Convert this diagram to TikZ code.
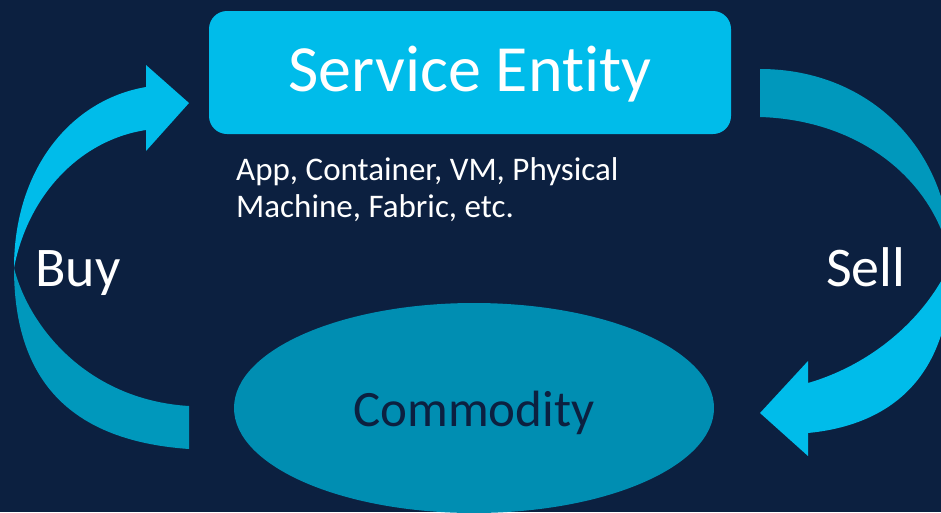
\documentclass[tikz,border=0pt]{standalone}
\usepackage{fontspec}
\setmainfont{Carlito}[Ligatures = NoCommon]
\usetikzlibrary{positioning, shapes.geometric}

\definecolor{navy}{RGB}{12,32,64}
\definecolor{skyblue}{RGB}{0,188,234}
\definecolor{deepteal}{RGB}{0,152,188}
\definecolor{oval}{RGB}{0,142,178}

\begin{document}
\begin{tikzpicture}[x = 1pt, y = -1pt,
  entity/.style = {fill = skyblue, rounded corners = 18pt, inner sep = 0pt,
    minimum width = 522pt, minimum height = 123pt, text = white,
    font = \fontsize{66}{70}\selectfont, text height = 44pt, text depth = 7pt},
  goods/.style = {ellipse, fill = oval, inner sep = 0pt,
    minimum width = 480pt, minimum height = 210pt, text = navy,
    font = \fontsize{51}{55}\selectfont, text height = 36pt, text depth = 0pt},
  side/.style = {anchor = base west, inner sep = 0pt, text = white,
    font = \fontsize{56}{60}\selectfont},
  note/.style = {anchor = base west, inner sep = 0pt, text = white, align = left,
    font = \fontsize{33}{37}\selectfont}]
\useasboundingbox (0,0) rectangle (941,512);
\fill[navy] (0,0) rectangle (941,512);

\begin{scope}
\clip (0,0) rectangle (941,512);
% buy arrow, back then front
\fill[deepteal] (14,268) .. controls (30,330) and (90,400) .. (189,406)
  -- (189,449) .. controls (60,440) and (14,370) .. (14,268) -- cycle;
\fill[skyblue] (14,268) .. controls (14,170) and (70,100) .. (146,87)
  -- (146,65) -- (189,103) -- (146,151) -- (146,130)
  .. controls (80,140) and (28,195) .. (14,268) -- cycle;
% sell arrow, back then front
\fill[deepteal] (760,69) .. controls (870,69) and (951,150) .. (951,262)
  .. controls (935,180) and (860,120) .. (760,117) -- cycle;
\fill[skyblue] (951,262) .. controls (925,320) and (870,365) .. (808,383)
  -- (808,361) -- (760,413) -- (808,456) -- (808,433)
  .. controls (890,425) and (952,378) .. (951,262) -- cycle;

\node[goods] (commodity) at (474,408) {Commodity};
\end{scope}

\node[entity] (entity) at (470,72.5) {Service Entity};
\node[note] (kinds) at (236,217) {App, Container, VM, Physical\\Machine, Fabric, etc.};
\node[side] (buy) at (35,286) {Buy};
\node[side] (sell) at (826,286) {Sell};
\end{tikzpicture}
\end{document}
